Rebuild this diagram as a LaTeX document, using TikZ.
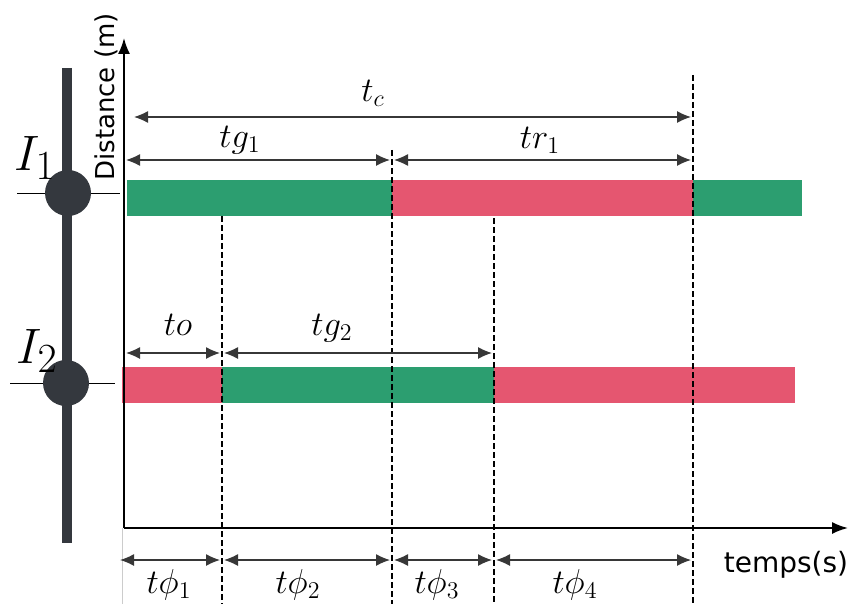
\documentclass[tikz,border=0pt]{standalone}
\usepackage{fontspec}
\setsansfont{DejaVu Sans}
\usetikzlibrary{arrows.meta}
\definecolor{roadgray}{RGB}{52,56,62}
\definecolor{phasegreen}{RGB}{44,158,112}
\definecolor{phasered}{RGB}{229,86,112}
\definecolor{tipgray}{RGB}{55,55,55}
\begin{document}
\begin{tikzpicture}[
    x=0.5pt, y=-0.5pt,
    axisline/.style={-{Latex[length=8pt,width=6pt]}, line width=0.9pt},
    dimarrow/.style={{Latex[length=7pt,width=6pt]}-{Latex[length=7pt,width=6pt]}, line width=0.6pt, draw=tipgray, tipgray, shorten <=1pt, shorten >=1pt},
    phaseline/.style={dash pattern=on 3pt off 1.5pt, line width=0.7pt},
    tlabel/.style={font=\LARGE},
    intname/.style={font=\Huge},
    junction/.style={circle, fill=roadgray, minimum size=23pt, inner sep=0pt},
    axislabel/.style={font=\sffamily\fontsize{13}{15}\selectfont}
  ]
    \useasboundingbox (0,0) rectangle (854,604);
    \coordinate (m0) at (124,528);
    \coordinate (m1) at (222,528);
    \coordinate (m2) at (392,528);
    \coordinate (m3) at (494,528);
    \coordinate (m4) at (693,528);
    \coordinate (ytc) at (0,117);
    \coordinate (yg1) at (0,160);
    \coordinate (yo) at (0,353);
    \coordinate (yphi) at (0,560);
    \coordinate (xtop) at (124,38);
    \coordinate (xend) at (848,528);

    \fill[phasegreen] (127,180) rectangle (392,216);
    \fill[phasered] (392,180) rectangle (693,216);
    \fill[phasegreen] (693,180) rectangle (802,216);
    \fill[phasered] (122,367) rectangle (222,403);
    \fill[phasegreen] (222,367) rectangle (494,403);
    \fill[phasered] (494,367) rectangle (795,403);

    \draw[phaseline] (222,216) -- (222,604);
    \draw[phaseline] (392,150) -- (392,604);
    \draw[phaseline] (494,218) -- (494,604);
    \draw[phaseline] (693,75) -- (693,604);
    \draw[gray!40, line width=0.3pt] (122,528) -- (122,604);

    \draw[line width=5pt, roadgray] (67,68) -- (67,543);
    \draw[line width=0.5pt] (17,193) -- (120,193);
    \draw[line width=0.5pt] (10,383) -- (115,383);
    \node[junction] (int1) at (68,193) {};
    \node[junction] (int2) at (66,383) {};
    \node[intname] (lbI1) at (35,158) {$I_1$};
    \node[intname] (lbI2) at (37,351) {$I_2$};

    \draw[axisline] (m0) -- (xtop);
    \draw[axisline] (m0) -- (xend);
    \node[axislabel, rotate=90] (lbdist) at (106,97) {Distance (m)};
    \node[axislabel, font=\sffamily\fontsize{14}{16}\selectfont] (lbtemps) at (786,565) {temps(s)};

    \draw[dimarrow, shorten <=5pt] (m0 |- ytc) -- (m4 |- ytc);
    \draw[dimarrow] (m0 |- yg1) -- (m2 |- yg1);
    \draw[dimarrow] (m2 |- yg1) -- (m4 |- yg1);
    \draw[dimarrow] (m0 |- yo) -- (m1 |- yo);
    \draw[dimarrow] (m1 |- yo) -- (m3 |- yo);
    \draw[dimarrow, shorten <=-2pt] (m0 |- yphi) -- (m1 |- yphi);
    \draw[dimarrow] (m1 |- yphi) -- (m2 |- yphi);
    \draw[dimarrow] (m2 |- yphi) -- (m3 |- yphi);
    \draw[dimarrow] (m3 |- yphi) -- (m4 |- yphi);

    \node[tlabel] (lbtc) at (373,93) {$t_c$};
    \node[tlabel] (lbtg1) at (240,140) {$tg_1$};
    \node[tlabel] (lbtr1) at (540,140) {$tr_1$};
    \node[tlabel] (lbto) at (178,325) {$to$};
    \node[tlabel] (lbtg2) at (332,328) {$tg_2$};
    \node[tlabel] (lbphi1) at (169,585) {$t\phi_1$};
    \node[tlabel] (lbphi2) at (298,585) {$t\phi_2$};
    \node[tlabel] (lbphi3) at (437,585) {$t\phi_3$};
    \node[tlabel] (lbphi4) at (575,585) {$t\phi_4$};
  \end{tikzpicture}
\end{document}
